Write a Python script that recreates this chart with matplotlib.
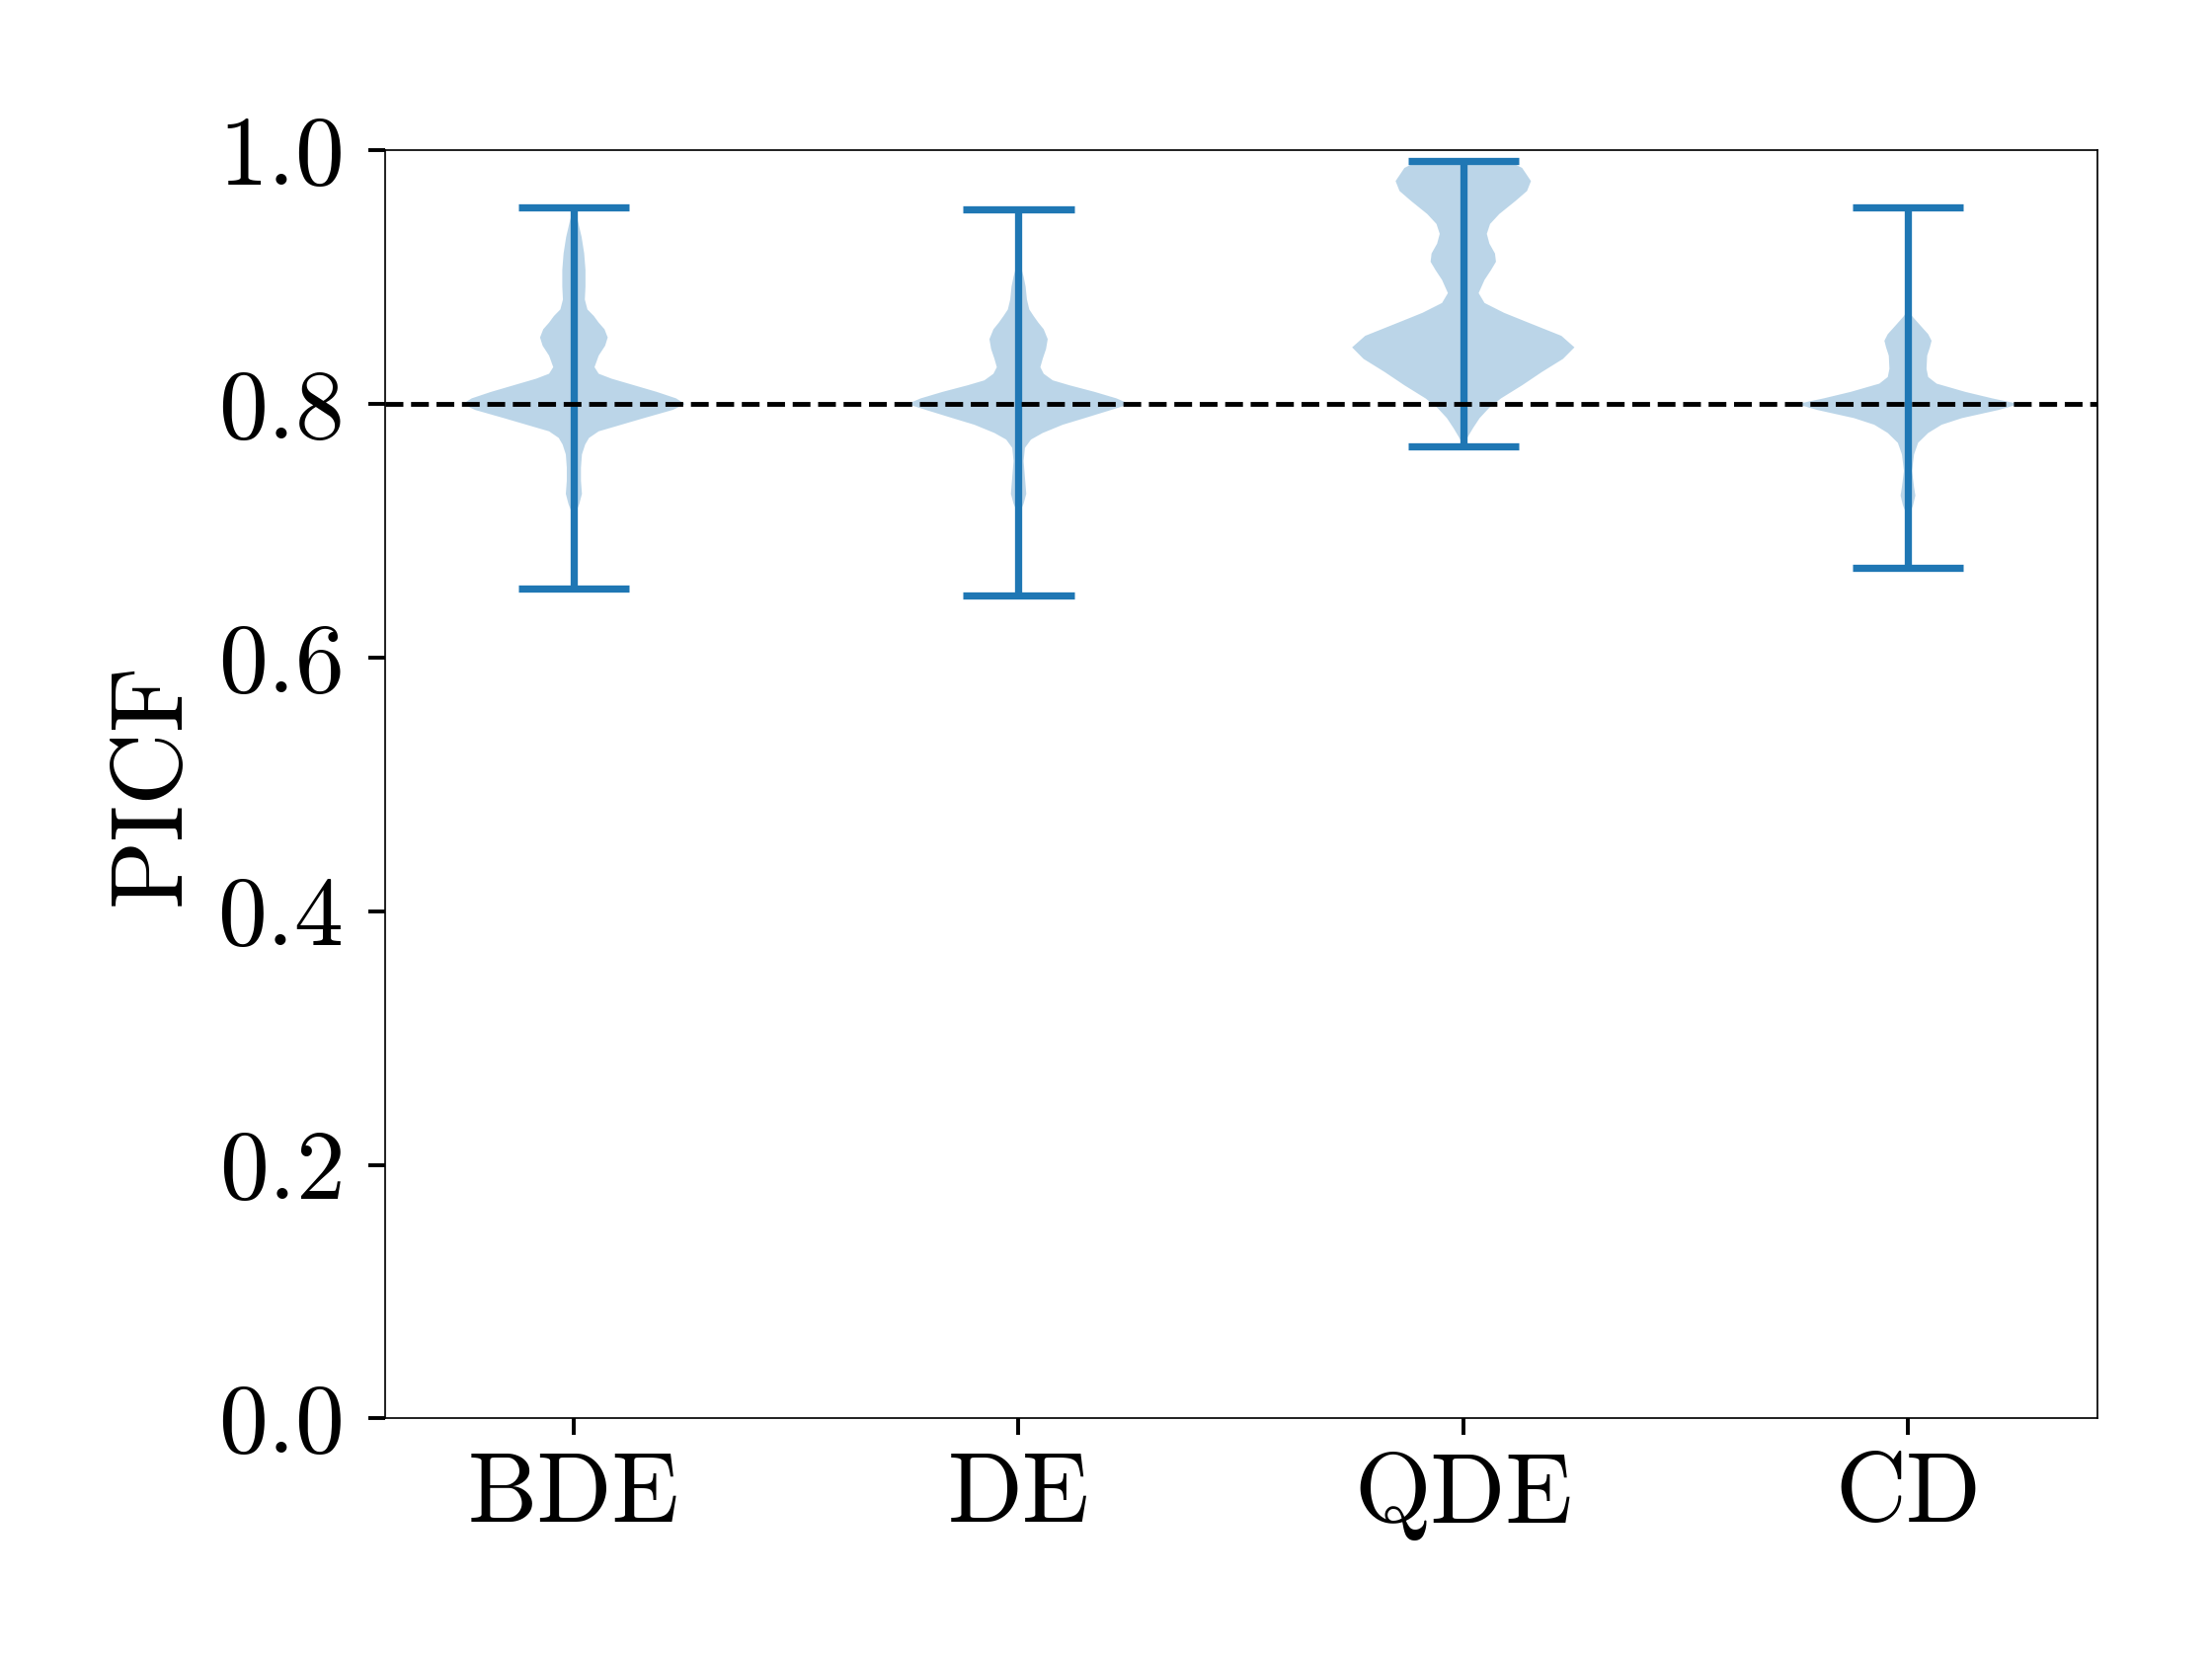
import matplotlib
matplotlib.use("Agg")
import matplotlib.pyplot as plt

plt.rcParams["font.family"] = "serif"
plt.rcParams["font.serif"] = ["cmr10"]
plt.rcParams["mathtext.fontset"] = "cm"
plt.rcParams["axes.unicode_minus"] = False
plt.rcParams["axes.formatter.use_mathtext"] = True

methods = ["BDE", "DE", "QDE", "CD"]
extrema_min = [0.654, 0.6485, 0.7666, 0.671]
extrema_max = [0.955, 0.953, 0.9912, 0.955]
threshold = 0.8

# density outline: value, relative half width
bde_coords = [0.654, 0.7082, 0.7134, 0.7212, 0.7290, 0.7393, 0.7497, 0.7601,
              0.7679, 0.7731, 0.7783, 0.7835, 0.7887, 0.7952, 0.7998, 0.8043,
              0.8094, 0.8146, 0.8198, 0.8237, 0.8289, 0.8380, 0.8458, 0.8523,
              0.8588, 0.8640, 0.8692, 0.8744, 0.8822, 0.8925, 0.9055, 0.9185,
              0.9315, 0.9445, 0.9548]
bde_vals = [0, 0, 5, 17, 25, 22, 22, 25,
            35, 47, 77, 147, 217, 307, 345, 317,
            257, 187, 117, 77, 64, 77, 97, 105,
            95, 77, 62, 42, 34, 36, 36, 32,
            24, 12, 0]

de_coords = [0.6485, 0.7108, 0.7147, 0.7212, 0.7290, 0.7420, 0.7549, 0.7653,
             0.7718, 0.7770, 0.7835, 0.7887, 0.7952, 0.7998, 0.8043, 0.8094,
             0.8146, 0.8185, 0.8237, 0.8289, 0.8354, 0.8432, 0.8510, 0.8588,
             0.8640, 0.8692, 0.8744, 0.8822, 0.8925, 0.9003, 0.9081, 0.9133,
             0.953]
de_vals = [0, 0, 4, 15, 23, 19, 15, 19,
           37, 72, 132, 197, 277, 332, 292, 227,
           152, 102, 75, 65, 72, 82, 87, 75,
           59, 45, 32, 25, 21, 15, 7, 0,
           0]

qde_coords = [0.7666, 0.7679, 0.7731, 0.7809, 0.7887, 0.7965, 0.8042, 0.8146,
              0.8250, 0.8354, 0.8445, 0.8536, 0.8639, 0.8717, 0.8795, 0.8873,
              0.8977, 0.9055, 0.9120, 0.9185, 0.9263, 0.9340, 0.9418, 0.9496,
              0.9600, 0.9678, 0.9756, 0.9860, 0.9912]
qde_vals = [0, 2, 12, 30, 50, 78, 115, 180,
            240, 305, 340, 300, 200, 125, 65, 47,
            65, 85, 100, 97, 80, 72, 82, 110,
            160, 195, 207, 180, 140]

cd_coords = [0.671, 0.7082, 0.7134, 0.7199, 0.7277, 0.7344, 0.7471, 0.7601,
             0.7692, 0.7770, 0.7835, 0.7887, 0.7952, 0.7998, 0.8043, 0.8094,
             0.8159, 0.8211, 0.8276, 0.8380, 0.8445, 0.8497, 0.8549, 0.8614,
             0.8692, 0.8744, 0.955]
cd_vals = [0, 0, 5, 15, 22, 18, 12, 18,
           30, 60, 100, 160, 270, 330, 250, 170,
           85, 60, 55, 57, 65, 70, 60, 38,
           12, 0, 0]

coords = [bde_coords, de_coords, qde_coords, cd_coords]
vals = [bde_vals, de_vals, qde_vals, cd_vals]

vpstats = []
for c, v, lo, hi in zip(coords, vals, extrema_min, extrema_max):
    peak = c[v.index(max(v))]
    vpstats.append({"coords": c, "vals": v, "mean": peak, "median": peak,
                    "min": lo, "max": hi})

fig, ax = plt.subplots(figsize=(6.4, 4.8), dpi=350)
fig.subplots_adjust(left=0.174, right=0.948, top=0.9095, bottom=0.145)

positions = list(range(1, len(methods) + 1))
ax.violin(vpstats, positions=positions, widths=0.5, showextrema=True)
ax.axhline(threshold, color="black", linestyle="--", linewidth=1.0)

ax.set_ylim(0, 1)
ax.set_xticks(positions)
ax.set_xticklabels(methods)
ax.set_ylabel("PICF", fontsize=21)
ax.tick_params(labelsize=20.5, width=0.8)
ax.tick_params(axis="y", pad=5.5)
for s in ax.spines.values():
    s.set_linewidth(0.35)

fig.savefig("out.png", dpi=350)
